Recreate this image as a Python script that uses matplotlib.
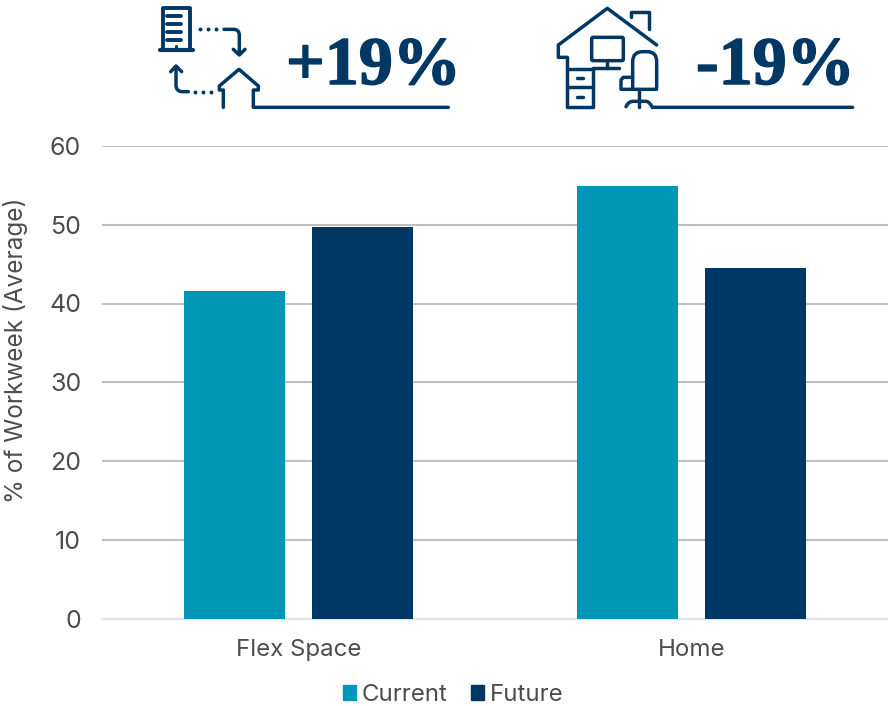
import numpy as np
import matplotlib
matplotlib.use("Agg")
import matplotlib.pyplot as plt
import matplotlib.patheffects as pe
from matplotlib.patches import Patch, FancyBboxPatch, PathPatch
from matplotlib.path import Path

categories = ["Flex Space", "Home"]
current = [41.6, 54.9]
future = [49.7, 44.5]
yticks = [0, 10, 20, 30, 40, 50, 60]
ylabel = "% of Workweek (Average)"
callouts = ["+19%", "-19%"]

TEAL = "#0096b5"
NAVY = "#003865"
GREY = "#4d4d4d"

plt.rcParams["font.family"] = ["Inter", "DejaVu Sans"]

W, H = 888, 706
fig = plt.figure(figsize=(W / 100, H / 100), dpi=100)
ax = fig.add_axes([102 / W, 1 - 618.5 / H, 786 / W, (618.5 - 146) / H])

x = np.arange(len(categories))
bw = 0.256
off = 0.1622
ax.bar(x - off, current, bw, color=TEAL, zorder=3)
ax.bar(x + off, future, bw, color=NAVY, zorder=3)

ax.set_xlim(-0.5, 1.5)
ax.set_ylim(0, 60)
ax.set_yticks(yticks)
ax.set_xticks(x)
ax.set_xticklabels(categories)
ax.tick_params(length=0, labelcolor=GREY)
ax.tick_params(axis="y", labelsize=18, pad=15)
ax.tick_params(axis="x", labelsize=17.3, pad=15)
ax.set_ylabel(ylabel, fontsize=17.5, color=GREY)
ax.yaxis.set_label_coords(-74 / 786, 0.568)
ax.yaxis.grid(True, color="#bfbfbf", lw=1.5, zorder=0)
ax.set_axisbelow(True)
for s in ax.spines.values():
    s.set_visible(False)
ax.spines["bottom"].set_visible(True)
ax.spines["bottom"].set_color("#e4e4e4")
ax.spines["bottom"].set_linewidth(1.5)

handles = [Patch(color=TEAL, label="Current"), Patch(color=NAVY, label="Future")]
fig.legend(handles=handles, loc="center", bbox_to_anchor=(453 / W, 1 - 695 / H), ncol=2,
           frameon=False, fontsize=17.3, labelcolor=GREY, handlelength=0.55, handleheight=0.55,
           handletextpad=0.25, columnspacing=0.95, borderpad=0)

# overlay in pixel coordinates for the two header icons
ov = fig.add_axes([0, 0, 1, 1], zorder=5)
ov.set_xlim(0, W)
ov.set_ylim(H, 0)
ov.axis("off")


def stroke(x0, pts, lw=2.5):
    xs = [x0 + p[0] / 3 for p in pts]
    ys = [p[1] / 3 for p in pts]
    ov.plot(xs, ys, color=NAVY, lw=lw, solid_capstyle="round", solid_joinstyle="round")


def curve(x0, verts, codes, lw=2.5):
    v = [(x0 + p[0] / 3, p[1] / 3) for p in verts]
    ov.add_patch(PathPatch(Path(v, codes), fc="none", ec=NAVY, lw=lw, capstyle="round"))


def dots(x0, pts):
    ov.scatter([x0 + p[0] / 3 for p in pts], [p[1] / 3 for p in pts], s=8, color=NAVY, lw=0)


M, L, C = Path.MOVETO, Path.LINETO, Path.CURVE3

# office + house with arrows
X1 = 140
stroke(X1, [(68, 150), (68, 25), (150, 25), (150, 150)], 2.8)
stroke(X1, [(60, 150), (160, 150)], 3)
for yy in (48, 72, 97, 120):
    stroke(X1, [(82, yy), (122, yy)], 2.8)
stroke(X1, [(108, 138), (108, 148)], 2.2)
dots(X1, [(180, 88), (205, 88), (228, 88)])
curve(X1, [(252, 88), (280, 88), (298, 88), (298, 106), (298, 162)], [M, L, C, C, L])
stroke(X1, [(280, 148), (298, 165), (315, 148)])
curve(X1, [(108, 200), (108, 255), (108, 275), (128, 275), (145, 275)], [M, L, C, C, L])
stroke(X1, [(92, 215), (108, 198), (125, 215)])
dots(X1, [(165, 275), (190, 275), (212, 275)])
stroke(X1, [(250, 322), (250, 270), (238, 270), (238, 258), (297, 208), (355, 258), (355, 270),
            (340, 270), (340, 322), (925, 322)])

# home office
X2 = 540
stroke(X2, [(80, 172), (55, 172), (55, 135), (202, 25), (350, 135)])
stroke(X2, [(272, 50), (272, 35), (326, 35), (326, 88)])
ov.add_patch(FancyBboxPatch((X2 + 155 / 3, 112 / 3), 95 / 3, 70 / 3, boxstyle="round,pad=0,rounding_size=1.5",
                            fc="none", ec=NAVY, lw=2.5))
stroke(X2, [(202, 182), (202, 205)])
stroke(X2, [(160, 205), (238, 205)])
stroke(X2, [(80, 172), (80, 320), (160, 320), (160, 205)])
stroke(X2, [(80, 208), (160, 208)])
stroke(X2, [(80, 262), (160, 262)])
stroke(X2, [(110, 235), (130, 235)])
stroke(X2, [(110, 290), (130, 290)])
curve(X2, [(278, 262), (278, 185), (278, 155), (308, 155), (322, 155), (350, 155), (350, 185), (350, 262)],
      [M, L, C, C, L, C, C, L])
stroke(X2, [(278, 232), (250, 232), (243, 240), (243, 268), (350, 268)])
stroke(X2, [(297, 268), (297, 320)])
curve(X2, [(258, 320), (265, 304), (280, 304), (318, 304), (328, 304), (337, 322), (938, 322)],
      [M, C, C, L, C, C, L])

# header figures
heavy = [pe.withStroke(linewidth=1.1, foreground=NAVY)]
fig.text(286 / W, 1 - 84 / H, callouts[0], family="Liberation Serif", weight="bold", fontsize=49,
         color=NAVY, ha="left", va="baseline", path_effects=heavy)
fig.text(696 / W, 1 - 84 / H, callouts[1], family="Liberation Serif", weight="bold", fontsize=49,
         color=NAVY, ha="left", va="baseline", path_effects=heavy)

fig.savefig("out.png", dpi=100)
